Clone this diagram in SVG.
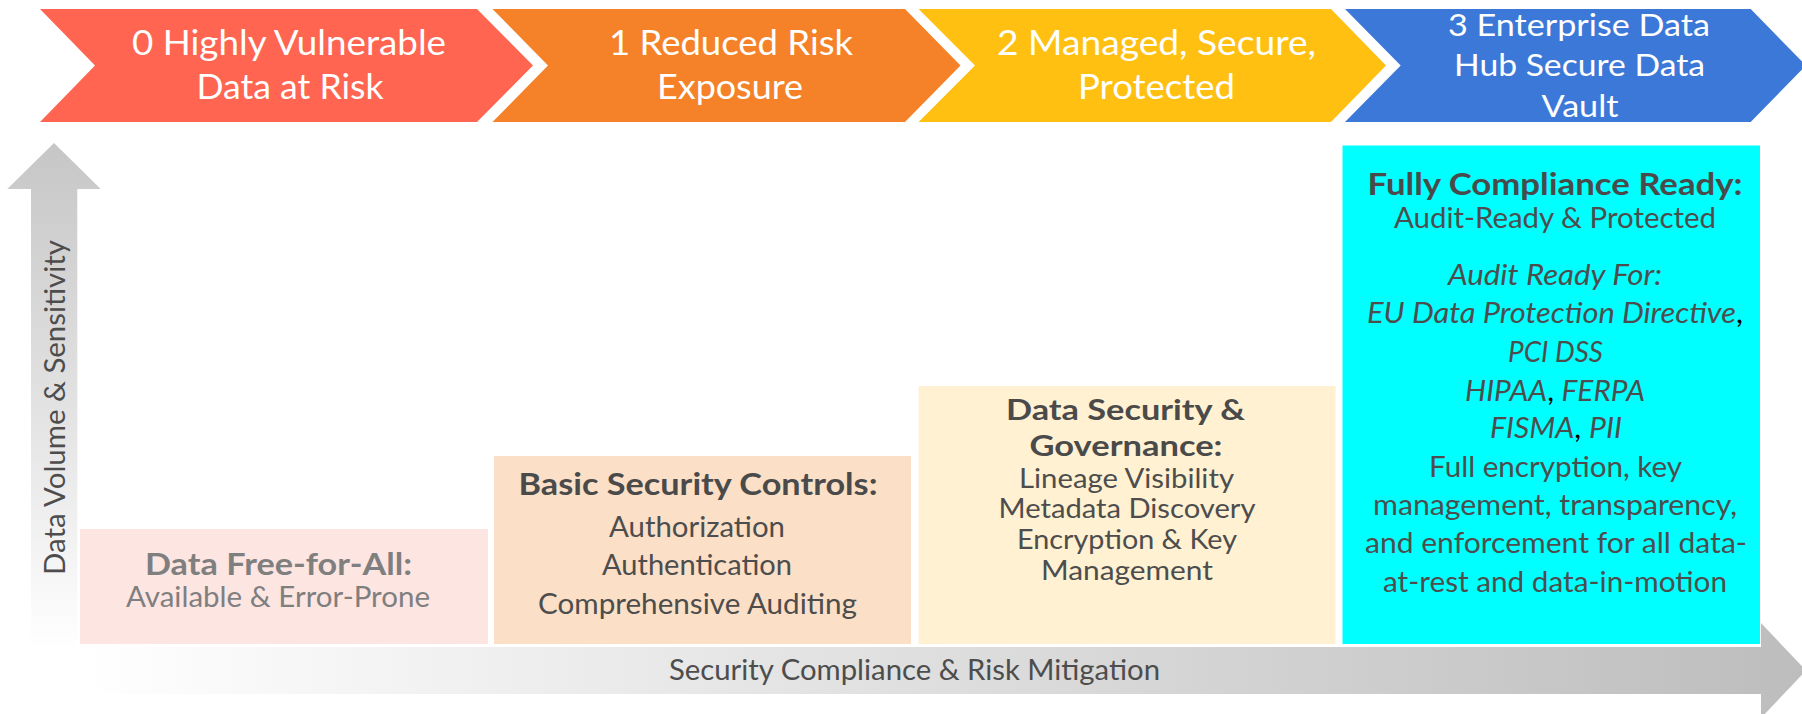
<svg xmlns="http://www.w3.org/2000/svg" width="1802" height="714" viewBox="0 0 1802 714">
  <defs>
    <linearGradient id="gradUp" x1="0" y1="143" x2="0" y2="650" gradientUnits="userSpaceOnUse">
      <stop offset="0" stop-color="#c6c6c6"/>
      <stop offset="0.55" stop-color="#e4e4e4"/>
      <stop offset="1" stop-color="#ffffff"/>
    </linearGradient>
    <linearGradient id="gradRight" x1="80" y1="0" x2="1802" y2="0" gradientUnits="userSpaceOnUse">
      <stop offset="0" stop-color="#ffffff"/>
      <stop offset="1" stop-color="#bdbdbd"/>
    </linearGradient>
    <style>
      text { font-family: Lato, "Liberation Sans", sans-serif; text-anchor: middle; }
      .stage { fill: #ffffff; font-size: 34px; }
      .stage4 { fill: #ffffff; font-size: 31px; }
      .title { font-weight: bold; font-size: 30px; fill: #4a4a4a; }
      .body { font-size: 28px; fill: #4d4d4d; }
      .tight { font-size: 26px; }
      .tight-title { font-size: 28px; }
      .faint { fill: #7f7f7f; }
      .it { font-style: italic; }
      .blk { fill: #000000; font-style: normal; }
      .axis { font-size: 28px; fill: #4d4d4d; }
    </style>
  </defs>

  <rect width="1802" height="714" fill="#ffffff"/>

  <!-- axes -->
  <g id="connectors">
    <g id="axis-volume">
      <path d="M54,143 L100.7,189 L77.3,189 L77.3,650 L31,650 L31,189 L7.3,189 Z" fill="url(#gradUp)"/>
      <text class="axis" transform="translate(65,407.5) rotate(-90)" font-size="27" textLength="335" lengthAdjust="spacingAndGlyphs">Data Volume &amp; Sensitivity</text>
    </g>
    <g id="axis-compliance">
      <path d="M80,647 L1761,647 L1761,623 L1806,670.5 L1761,718 L1761,694 L80,694 Z" fill="url(#gradRight)"/>
      <text class="axis" x="914.5" y="680" textLength="491" lengthAdjust="spacingAndGlyphs">Security Compliance &amp; Risk Mitigation</text>
    </g>
  </g>

  <!-- stage chevrons -->
  <g id="stage-0">
    <polygon points="40,9 477,9 533,65.5 477,122 40,122 95,65.5" fill="#ff6550"/>
    <text class="stage" x="289" y="55" textLength="314" lengthAdjust="spacingAndGlyphs">0 Highly Vulnerable</text>
    <text class="stage" x="290" y="99" textLength="187" lengthAdjust="spacingAndGlyphs">Data at Risk</text>
  </g>
  <g id="stage-1">
    <polygon points="492.5,9 905,9 960.5,65.5 905,122 492.5,122 548,65.5" fill="#f58228"/>
    <text class="stage" x="731" y="55" textLength="244" lengthAdjust="spacingAndGlyphs">1 Reduced Risk</text>
    <text class="stage" x="730" y="99" textLength="146" lengthAdjust="spacingAndGlyphs">Exposure</text>
  </g>
  <g id="stage-2">
    <polygon points="918.6,9 1331,9 1386,65.5 1331,122 918.6,122 975,65.5" fill="#ffc012"/>
    <text class="stage" x="1156.5" y="55" textLength="319" lengthAdjust="spacingAndGlyphs">2 Managed, Secure,</text>
    <text class="stage" x="1156.5" y="99" textLength="157" lengthAdjust="spacingAndGlyphs">Protected</text>
  </g>
  <g id="stage-3">
    <polygon points="1345,9 1750.7,9 1806,65.5 1750.7,122 1345,122 1400.7,65.5" fill="#3c78d8"/>
    <text class="stage4" x="1579" y="35.7" textLength="262" lengthAdjust="spacingAndGlyphs">3 Enterprise Data</text>
    <text class="stage4" x="1579.5" y="76" textLength="251" lengthAdjust="spacingAndGlyphs">Hub Secure Data</text>
    <text class="stage4" x="1580" y="116.7" textLength="77" lengthAdjust="spacingAndGlyphs">Vault</text>
  </g>

  <!-- maturity level boxes -->
  <g id="level-0">
    <rect x="80" y="529" width="408" height="115" fill="#fde5e1"/>
    <text class="title faint" x="278.5" y="575" textLength="267" lengthAdjust="spacingAndGlyphs">Data Free-for-All:</text>
    <text class="body faint" x="278" y="607" textLength="304" lengthAdjust="spacingAndGlyphs">Available &amp; Error-Prone</text>
  </g>
  <g id="level-1">
    <rect x="494" y="456" width="417" height="188" fill="#fbdfc7"/>
    <text class="title" x="698" y="495" textLength="359" lengthAdjust="spacingAndGlyphs">Basic Security Controls:</text>
    <text class="body" x="697" y="536.7" textLength="176" lengthAdjust="spacingAndGlyphs">Authorization</text>
    <text class="body" x="697" y="575" textLength="190" lengthAdjust="spacingAndGlyphs">Authentication</text>
    <text class="body" x="697.5" y="613.5" textLength="319" lengthAdjust="spacingAndGlyphs">Comprehensive Auditing</text>
  </g>
  <g id="level-2">
    <rect x="918.6" y="386" width="417" height="258" fill="#fff1d1"/>
    <text class="title tight-title" x="1125.5" y="420" textLength="239" lengthAdjust="spacingAndGlyphs">Data Security &amp;</text>
    <text class="title tight-title" x="1126" y="455.5" textLength="193" lengthAdjust="spacingAndGlyphs">Governance:</text>
    <text class="body tight" x="1126.5" y="488" textLength="215" lengthAdjust="spacingAndGlyphs">Lineage Visibility</text>
    <text class="body tight" x="1127" y="518" textLength="257" lengthAdjust="spacingAndGlyphs">Metadata Discovery</text>
    <text class="body tight" x="1127" y="549" textLength="220" lengthAdjust="spacingAndGlyphs">Encryption &amp; Key</text>
    <text class="body tight" x="1127" y="580" textLength="172" lengthAdjust="spacingAndGlyphs">Management</text>
  </g>
  <g id="level-3">
    <rect x="1342.5" y="145.5" width="417.5" height="498.5" fill="#00ffff"/>
    <text class="title" x="1555" y="195" textLength="375" lengthAdjust="spacingAndGlyphs">Fully Compliance Ready:</text>
    <text class="body" x="1555" y="228" textLength="322" lengthAdjust="spacingAndGlyphs">Audit-Ready &amp; Protected</text>
    <text class="body it" x="1555" y="285" textLength="214" lengthAdjust="spacingAndGlyphs">Audit Ready For:</text>
    <text class="body it" x="1555" y="323" textLength="376" lengthAdjust="spacingAndGlyphs">EU Data Protection Directive<tspan class="blk">,</tspan></text>
    <text class="body it" x="1555.5" y="362" textLength="95" lengthAdjust="spacingAndGlyphs">PCI DSS</text>
    <text class="body it" x="1555" y="400.7" textLength="180" lengthAdjust="spacingAndGlyphs">HIPAA<tspan class="blk">, </tspan>FERPA</text>
    <text class="body it" x="1556" y="438" textLength="132" lengthAdjust="spacingAndGlyphs">FISMA<tspan class="blk">, </tspan>PII</text>
    <text class="body" x="1555.5" y="476.7" textLength="253" lengthAdjust="spacingAndGlyphs">Full encryption, key</text>
    <text class="body" x="1555" y="515" textLength="364" lengthAdjust="spacingAndGlyphs">management, transparency,</text>
    <text class="body" x="1556" y="553" textLength="382" lengthAdjust="spacingAndGlyphs">and enforcement for all data-</text>
    <text class="body" x="1555" y="591.7" textLength="344" lengthAdjust="spacingAndGlyphs">at-rest and data-in-motion</text>
  </g>
</svg>
